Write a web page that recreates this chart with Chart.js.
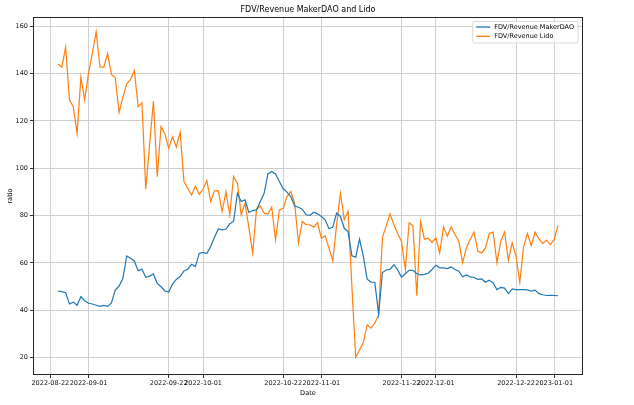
<!DOCTYPE html>
<html>
<head>
<meta charset="utf-8">
<script src="https://cdn.jsdelivr.net/npm/chart.js@4.4.1/dist/chart.umd.min.js"></script>
<style>
  html, body { margin: 0; padding: 0; background: #fff; }
  #wrap { width: 634px; height: 405px; }
</style>
</head>
<body>
<div id="wrap"><canvas id="chart" width="634" height="405"></canvas></div>
<script>
// daily values, day 0 = 2022-08-24
const startDate = '2022-08-24';
const seriesNames = ['FDV/Revenue MakerDAO', 'FDV/Revenue Lido'];
const seriesColors = ['#1f77b4', '#ff7f0e'];

const makerDAO = [
    48.1, 47.8, 47.4, 42.6, 43.4, 42.1, 45.7, 44.0, 42.9, 42.6,
    42.1, 41.6, 42.0, 41.6, 43.1, 48.5, 50.2, 53.4, 62.9, 61.9,
    60.8, 56.7, 57.3, 53.9, 54.4, 55.3, 51.3, 49.9, 48.1, 47.7,
    51.0, 53.0, 54.2, 56.6, 57.3, 59.4, 58.4, 64.0, 64.4, 63.9,
    66.9, 70.8, 74.3, 73.9, 74.3, 76.5, 77.5, 89.4, 85.9, 86.6,
    81.3, 82.1, 82.4, 85.9, 89.4, 97.6, 98.6, 97.6, 94.4, 91.3,
    89.9, 88.0, 84.0, 83.5, 82.7, 80.3, 80.1, 81.4, 80.7, 79.6,
    78.2, 74.4, 75.1, 81.0, 79.6, 74.6, 73.2, 63.0, 62.4, 70.0,
    62.7, 53.1, 51.8, 51.8, 38.3, 55.9, 57.0, 57.3, 59.2, 57.0,
    53.9, 55.4, 56.8, 56.8, 55.4, 54.9, 55.1, 55.6, 57.2, 59.0,
    57.9, 57.9, 57.6, 58.3, 57.2, 56.5, 54.1, 54.9, 54.1, 53.8,
    53.0, 53.2, 51.8, 52.7, 51.5, 48.7, 49.6, 49.3, 47.0, 49.0,
    48.7, 48.7, 48.7, 48.6, 48.0, 48.5, 47.0, 46.5, 46.2, 46.3,
    46.2, 46.1
];

const lido = [
    143.9, 142.7, 151.2, 128.9, 126.0, 114.7, 138.5, 128.9, 140.2, 148.5,
    157.6, 142.7, 142.7, 148.4, 139.6, 138.2, 123.6, 130.0, 135.7, 137.4,
    141.3, 126.0, 127.6, 91.1, 110.0, 128.3, 96.4, 117.6, 114.5, 108.5,
    113.3, 109.0, 115.2, 94.4, 91.5, 88.7, 92.5, 89.0, 91.1, 94.8,
    85.9, 90.4, 90.4, 81.7, 90.1, 80.3, 96.5, 93.7, 80.3, 85.2,
    75.0, 64.1, 82.4, 84.1, 81.0, 80.6, 83.5, 69.7, 82.4, 83.1,
    88.0, 90.1, 85.2, 68.5, 77.5, 76.1, 76.1, 75.1, 77.0, 70.4,
    71.4, 66.2, 60.8, 76.1, 89.4, 78.2, 81.7, 50.0, 20.1, 23.2,
    26.3, 33.8, 32.4, 34.5, 38.0, 70.8, 75.6, 80.7, 76.1, 72.3,
    69.0, 57.3, 77.0, 75.6, 46.1, 77.5, 70.0, 70.4, 68.7, 70.6,
    64.2, 75.2, 71.3, 75.2, 72.0, 69.2, 60.0, 66.3, 69.9, 73.0,
    64.9, 64.2, 66.3, 72.4, 73.0, 60.0, 69.2, 73.0, 61.1, 68.5,
    62.8, 51.8, 67.0, 72.4, 67.3, 73.0, 70.1, 68.2, 69.6, 67.7,
    69.9, 75.8
];

// x ticks, in days from startDate
const tickDays = [-2, 8, 29, 38, 59, 69, 90, 99, 120, 130];
const tickLabels = ['2022-08-22', '2022-09-01', '2022-09-22', '2022-10-01', '2022-10-22',
    '2022-11-01', '2022-11-22', '2022-12-01', '2022-12-22', '2023-01-01'];
const yTicks = [20, 40, 60, 80, 100, 120, 140, 160];

const FONT = '"DejaVu Sans", sans-serif';

const toPoints = arr => arr.map((v, i) => ({ x: i, y: v }));

// title, axis names, frame and legend drawn the matplotlib way
const decor = {
    id: 'decor',
    afterDraw(chart) {
        const { ctx, chartArea: a } = chart;
        ctx.save();

        ctx.strokeStyle = '#262626';
        ctx.lineWidth = 1;
        ctx.strokeRect(a.left + 0.5, a.top + 0.5, a.right - a.left - 1, a.bottom - a.top - 1);

        ctx.fillStyle = '#000';
        ctx.textAlign = 'center';
        ctx.textBaseline = 'alphabetic';
        ctx.font = '8px ' + FONT;
        ctx.fillText('FDV/Revenue MakerDAO and Lido', (a.left + a.right) / 2, a.top - 5);

        ctx.font = '6.6px ' + FONT;
        ctx.fillText('Date', (a.left + a.right) / 2, 395);

        ctx.save();
        ctx.translate(12, (a.top + a.bottom) / 2);
        ctx.rotate(-Math.PI / 2);
        ctx.fillText('ratio', 0, 0);
        ctx.restore();

        // legend
        ctx.font = '6.5px ' + FONT;
        const textW = Math.max(...seriesNames.map(s => ctx.measureText(s).width));
        const boxW = 3.5 + 14 + 4 + textW + 4;
        const boxX = a.right - 5 - boxW;
        const boxY = a.top + 4.5;
        const boxH = 21.5;
        ctx.beginPath();
        ctx.roundRect(boxX, boxY, boxW, boxH, 2);
        ctx.fillStyle = 'rgba(255,255,255,0.8)';
        ctx.fill();
        ctx.strokeStyle = '#d0d0d0';
        ctx.lineWidth = 0.8;
        ctx.stroke();

        ctx.textAlign = 'left';
        ctx.textBaseline = 'middle';
        seriesNames.forEach((name, i) => {
            const y = boxY + 5.5 + i * 9.3;
            ctx.strokeStyle = seriesColors[i];
            ctx.lineWidth = 1.3;
            ctx.beginPath();
            ctx.moveTo(boxX + 3.5, y);
            ctx.lineTo(boxX + 17.5, y);
            ctx.stroke();
            ctx.fillStyle = '#000';
            ctx.fillText(name, boxX + 21.5, y + 0.5);
        });

        ctx.restore();
    }
};

new Chart(document.getElementById('chart').getContext('2d'), {
    type: 'line',
    data: {
        datasets: [
            {
                label: seriesNames[0],
                data: toPoints(makerDAO),
                borderColor: seriesColors[0],
                borderWidth: 1.2,
                pointRadius: 0,
                tension: 0,
                fill: false
            },
            {
                label: seriesNames[1],
                data: toPoints(lido),
                borderColor: seriesColors[1],
                borderWidth: 1.2,
                pointRadius: 0,
                tension: 0,
                fill: false
            }
        ]
    },
    options: {
        responsive: false,
        animation: false,
        events: [],
        layout: { padding: { left: 0, right: 51, top: 17, bottom: 0 } },
        plugins: {
            legend: { display: false },
            title: { display: false },
            tooltip: { enabled: false }
        },
        scales: {
            x: {
                type: 'linear',
                min: -6.55,
                max: 137.55,
                afterFit: s => { s.height = 30; },
                afterBuildTicks: s => { s.ticks = tickDays.map(v => ({ value: v })); },
                ticks: {
                    autoSkip: false,
                    maxRotation: 0,
                    minRotation: 0,
                    padding: 1,
                    color: '#111',
                    font: { family: FONT, size: 6.5 },
                    callback: v => tickLabels[tickDays.indexOf(v)]
                },
                grid: { color: '#cfcfcf', lineWidth: 1, tickLength: 3, tickColor: '#333' },
                border: { display: false }
            },
            y: {
                min: 12.6,
                max: 163.9,
                afterFit: s => { s.width = 33; },
                afterBuildTicks: s => { s.ticks = yTicks.map(v => ({ value: v })); },
                ticks: {
                    padding: 2,
                    color: '#111',
                    font: { family: FONT, size: 6.5 }
                },
                grid: { color: '#cfcfcf', lineWidth: 1, tickLength: 3, tickColor: '#333' },
                border: { display: false }
            }
        }
    },
    plugins: [decor]
});
</script>
</body>
</html>
